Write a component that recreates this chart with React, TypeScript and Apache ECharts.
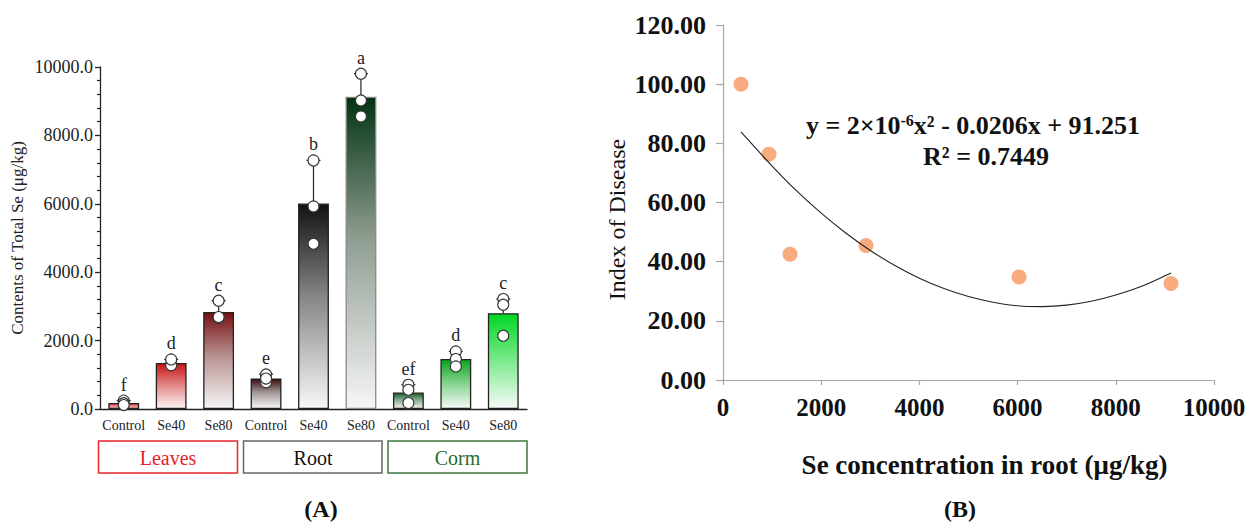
import React, { useEffect, useRef } from 'react';
import * as echarts from 'echarts';

const FONT = 'Liberation Serif, Times New Roman, serif';

// ---------- Panel A data ----------
const treatments = ['Control', 'Se40', 'Se80', 'Control', 'Se40', 'Se80', 'Control', 'Se40', 'Se80'];
const categoryIds = ['L-Control', 'L-Se40', 'L-Se80', 'R-Control', 'R-Se40', 'R-Se80', 'C-Control', 'C-Se40', 'C-Se80'];
const tissues = ['Leaves', 'Root', 'Corm'];
const barMeans = [177, 1343, 2839, 893, 6009, 9128, 482, 1464, 2803];
const barErrorTop = [243, 1450, 3167, 1020, 7269, 9804, 713, 1684, 3216];
const letters = ['f', 'd', 'c', 'e', 'b', 'a', 'ef', 'd', 'c'];
const replicates = [
  [245, 170, 115],
  [1300, 1280, 1450],
  [2661, 2690, 3167],
  [1010, 780, 890],
  [5924, 4833, 7269],
  [9023, 8556, 9804],
  [709, 563, 175],
  [1684, 1462, 1246],
  [3216, 3050, 2143],
];
const barTopColors = ['#e0302f', '#c81616', '#780f10', '#3a0c0c', '#111111', '#023312', '#1b5c28', '#07a41a', '#00d622'];
const barMidColors = ['#eb7d7d', '#e08080', '#b89090', '#a09696', '#858585', '#8e9c90', '#8aae92', '#7cd088', '#70e884'];
const barBottomColors = ['#f6c6c6', '#fbf4f4', '#f6f6f6', '#f8f8f8', '#f8f8f8', '#f6f6f6', '#f4f4f4', '#f8f8f8', '#f8fbf8'];
const barBorderColors = ['#222', '#222', '#222', '#222', '#222', '#8a8a8a', '#222', '#222', '#222'];

// ---------- Panel B data ----------
const rootSe = [367, 937, 1365, 2912, 6029, 9124];
const diseaseIndex = [100, 76.3, 42.5, 45.5, 34.8, 32.6];
const trendX = [367, 500, 1000, 1500, 2000, 2500, 3000, 3500, 4000, 4500, 5000, 5500, 6000, 6500, 7000, 7500, 8000, 8500, 9000, 9124];
const trendY = [83.9, 81.4, 72.3, 63.9, 56.4, 49.7, 43.8, 38.7, 34.4, 30.9, 28.2, 26.3, 25.1, 24.8, 25.3, 26.6, 28.7, 31.5, 35.2, 36.2];

export default function App() {
  const ref = useRef<HTMLDivElement>(null);

  useEffect(() => {
    if (!ref.current) return;
    const chart = echarts.init(ref.current, undefined, { renderer: 'svg' });

    const barData = barMeans.map((v, i) => ({
      value: v,
      itemStyle: {
        color: {
          type: 'linear', x: 0, y: 0, x2: 0, y2: 1,
          colorStops: [
            { offset: 0, color: barTopColors[i] },
            { offset: 0.45, color: barMidColors[i] },
            { offset: 1, color: barBottomColors[i] },
          ],
        },
        borderColor: barBorderColors[i],
        borderWidth: 1.3,
      },
    }));

    const errData = barMeans.map((v, i) => [i, v, barErrorTop[i]]);
    const dotData: number[][] = [];
    replicates.forEach((r, i) => r.forEach((v) => dotData.push([i, v])));

    const option: any = {
      animation: false,
      backgroundColor: '#ffffff',
      textStyle: { fontFamily: FONT },
      grid: [
        { left: 100, top: 67, width: 427, height: 342, outerBoundsMode: 'none' },
        { left: 723, top: 25, width: 491, height: 355, outerBoundsMode: 'none' },
      ],
      xAxis: [
        {
          type: 'category',
          gridIndex: 0,
          data: categoryIds,
          axisLine: { lineStyle: { color: '#222', width: 1.3 } },
          axisTick: { alignWithLabel: true, length: 5, lineStyle: { color: '#222', width: 1.3 } },
          axisLabel: {
            formatter: (_v: string, idx: number) => treatments[idx],
            fontFamily: FONT, fontSize: 14, color: '#222', margin: 9, interval: 0,
          },
          splitLine: { show: false },
        },
        {
          type: 'value',
          gridIndex: 1,
          min: 0, max: 10000, interval: 2000,
          axisLine: { onZero: false, lineStyle: { color: '#a6a6a6', width: 1.2 } },
          axisTick: { show: true, length: 5, lineStyle: { color: '#a6a6a6', width: 1.2 } },
          axisLabel: { formatter: (v: number) => String(v), fontFamily: FONT, fontSize: 25, fontWeight: 'bold', color: '#111', margin: 15 },
          splitLine: { show: false },
          name: 'Se concentration in root (μg/kg)',
          nameLocation: 'middle',
          nameGap: 71,
          nameTextStyle: { fontFamily: FONT, fontSize: 27, fontWeight: 'bold', color: '#111', padding: [0, 0, 0, 32] },
        },
      ],
      yAxis: [
        {
          type: 'value',
          gridIndex: 0,
          min: 0, max: 10000, interval: 2000,
          axisLine: { show: true, lineStyle: { color: '#222', width: 1.3 } },
          axisTick: { show: true, length: 5, lineStyle: { color: '#222', width: 1.3 } },
          minorTick: { show: true, splitNumber: 5, length: 3, lineStyle: { color: '#222', width: 1.2 } },
          axisLabel: { formatter: (v: number) => v.toFixed(1), fontFamily: FONT, fontSize: 18, color: '#222', margin: 7 },
          splitLine: { show: false },
          minorSplitLine: { show: false },
          name: 'Contents of Total Se (μg/kg)',
          nameLocation: 'middle',
          nameGap: 74,
          nameTextStyle: { fontFamily: FONT, fontSize: 17, color: '#222' },
        },
        {
          type: 'value',
          gridIndex: 1,
          min: 0, max: 120, interval: 20,
          axisLine: { show: true, lineStyle: { color: '#a6a6a6', width: 1.2 } },
          axisTick: { show: true, length: 7, lineStyle: { color: '#a6a6a6', width: 1.2 } },
          axisLabel: { formatter: (v: number) => v.toFixed(2), fontFamily: FONT, fontSize: 26, fontWeight: 'bold', color: '#111', margin: 17 },
          splitLine: { show: false },
          name: 'Index of Disease',
          nameLocation: 'middle',
          nameGap: 94,
          nameTextStyle: { fontFamily: FONT, fontSize: 24, color: '#111', padding: [0, 34, 0, 0] },
        },
      ],
      series: [
        {
          type: 'bar',
          xAxisIndex: 0, yAxisIndex: 0,
          data: barData,
          barWidth: '65%',
          z: 2,
        },
        {
          type: 'custom',
          xAxisIndex: 0, yAxisIndex: 0,
          data: errData,
          z: 3,
          renderItem: (_params: any, api: any) => {
            const i = api.value(0);
            const p0 = api.coord([i, api.value(1)]);
            const p1 = api.coord([i, api.value(2)]);
            return {
              type: 'group',
              children: [
                { type: 'line', shape: { x1: p0[0], y1: p0[1], x2: p1[0], y2: p1[1] }, style: { stroke: '#333', lineWidth: 1.3 } },
                { type: 'line', shape: { x1: p1[0] - 7, y1: p1[1], x2: p1[0] + 7, y2: p1[1] }, style: { stroke: '#333', lineWidth: 1.3 } },
                {
                  type: 'text', x: p1[0], y: p1[1] - 7,
                  style: { text: letters[i], align: 'center', verticalAlign: 'bottom', fontFamily: FONT, fontSize: 18, fill: '#222' },
                },
              ],
            };
          },
        },
        {
          type: 'scatter',
          xAxisIndex: 0, yAxisIndex: 0,
          data: dotData,
          symbol: 'circle',
          symbolSize: 11,
          itemStyle: { color: '#ffffff', borderColor: '#333', borderWidth: 1.1, opacity: 1 },
          z: 4,
        },
        {
          type: 'line',
          xAxisIndex: 1, yAxisIndex: 1,
          data: trendX.map((x, i) => [x, trendY[i]]),
          smooth: 0.3,
          showSymbol: false,
          symbol: 'none',
          lineStyle: { color: '#222', width: 1.1 },
          z: 3,
        },
        {
          type: 'scatter',
          xAxisIndex: 1, yAxisIndex: 1,
          data: rootSe.map((x, i) => [x, diseaseIndex[i]]),
          symbol: 'circle',
          symbolSize: 15,
          itemStyle: { color: '#f8ab7e', opacity: 1 },
          z: 2,
        },
      ],
      graphic: [
        { type: 'rect', shape: { x: 98.5, y: 441, width: 139, height: 32 }, style: { fill: 'none', stroke: '#e8282d', lineWidth: 1.5 } },
        { type: 'rect', shape: { x: 243.5, y: 441, width: 138.5, height: 32 }, style: { fill: 'none', stroke: '#666', lineWidth: 1.5 } },
        { type: 'rect', shape: { x: 388, y: 441, width: 139, height: 32 }, style: { fill: 'none', stroke: '#3d7a3d', lineWidth: 1.5 } },
        { type: 'text', x: 168, y: 458, style: { text: tissues[0], align: 'center', verticalAlign: 'middle', fontFamily: FONT, fontSize: 20, fill: '#e8202a' } },
        { type: 'text', x: 313, y: 458, style: { text: tissues[1], align: 'center', verticalAlign: 'middle', fontFamily: FONT, fontSize: 20, fill: '#111' } },
        { type: 'text', x: 457.5, y: 458, style: { text: tissues[2], align: 'center', verticalAlign: 'middle', fontFamily: FONT, fontSize: 20, fill: '#2a6a2a' } },
        { type: 'text', x: 321, y: 509, style: { text: '(A)', align: 'center', verticalAlign: 'middle', fontFamily: FONT, fontSize: 24, fontWeight: 'bold', fill: '#111' } },
        { type: 'text', x: 960, y: 509, style: { text: '(B)', align: 'center', verticalAlign: 'middle', fontFamily: FONT, fontSize: 24, fontWeight: 'bold', fill: '#111' } },
        {
          type: 'text', x: 973, y: 125,
          style: {
            text: '{n|y = 2×10}{s|-6}{n|x² - 0.0206x + 91.251}',
            align: 'center', verticalAlign: 'middle',
            rich: {
              n: { fontFamily: FONT, fontSize: 26, fontWeight: 'bold', fill: '#111' },
              s: { fontFamily: FONT, fontSize: 16, fontWeight: 'bold', fill: '#111', verticalAlign: 'top' },
            },
          },
        },
        { type: 'text', x: 986, y: 156, style: { text: 'R² = 0.7449', align: 'center', verticalAlign: 'middle', fontFamily: FONT, fontSize: 26, fontWeight: 'bold', fill: '#111' } },
      ],
    };

    chart.setOption(option);
    return () => chart.dispose();
  }, []);

  return (
    <div
      ref={ref}
      style={{ position: 'fixed', left: 0, top: 0, width: 1245, height: 523, background: '#fff' }}
    />
  );
}
